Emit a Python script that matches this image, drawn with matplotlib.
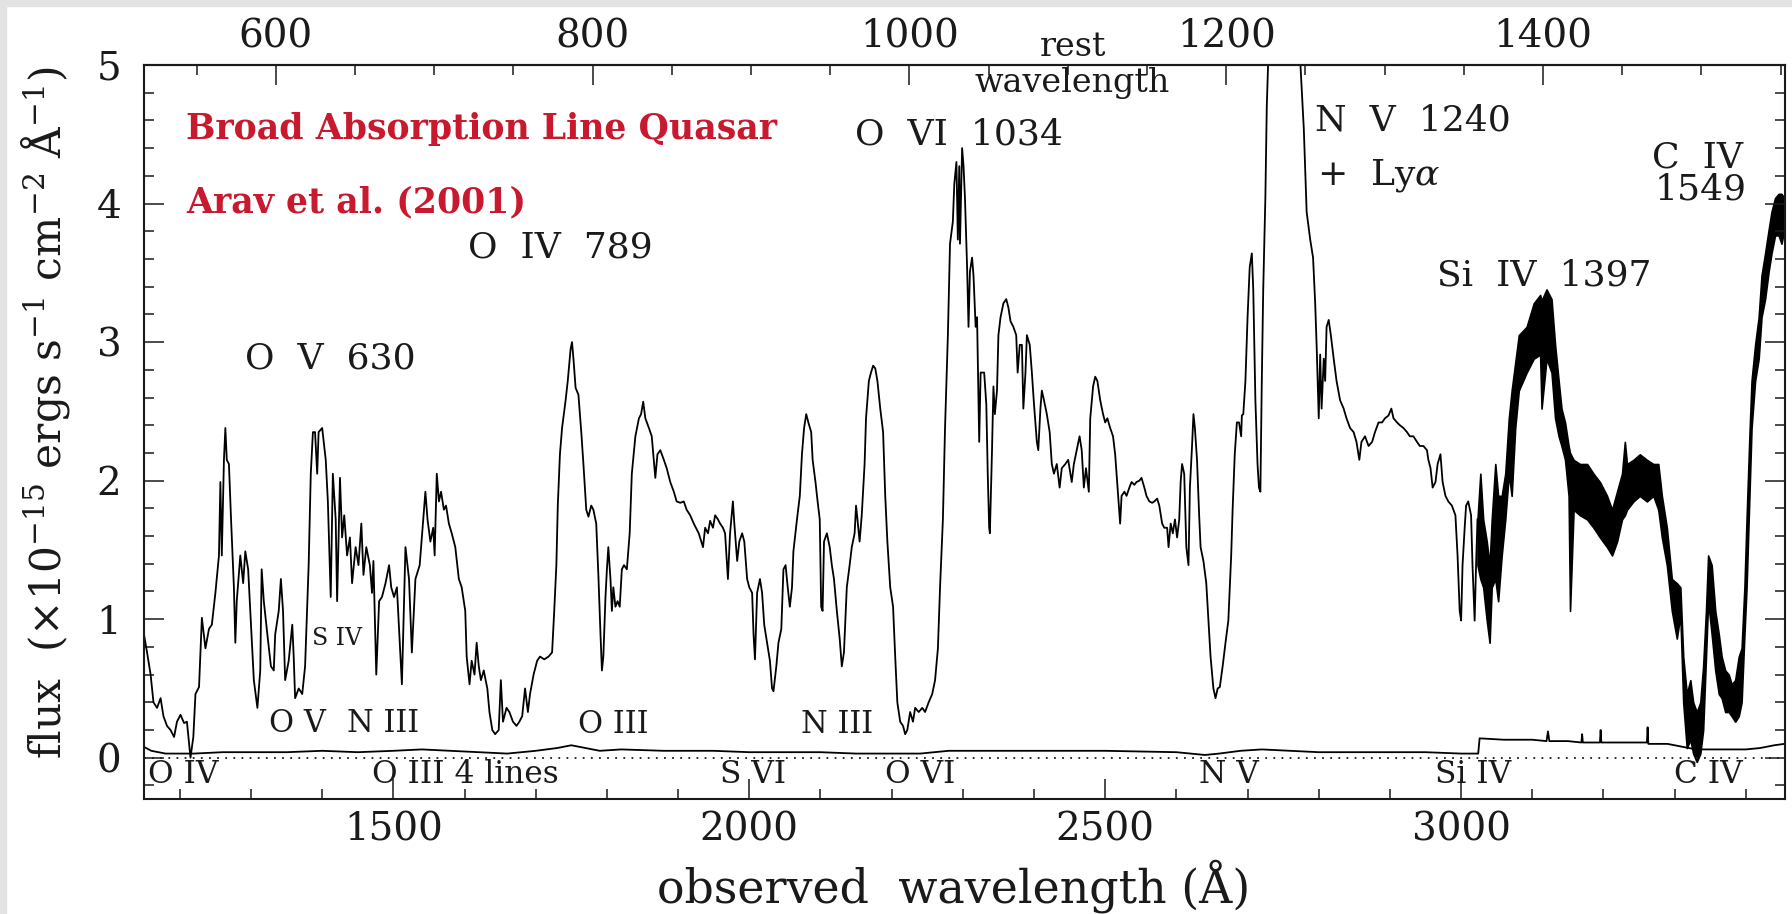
import matplotlib
matplotlib.use('Agg')
import matplotlib.pyplot as plt
from matplotlib.ticker import MultipleLocator
from matplotlib.patches import Rectangle

plt.rcParams['font.family'] = ['DejaVu Serif', 'DejaVu Sans']
plt.rcParams['mathtext.fontset'] = 'dejavuserif'

# 1+z : observed wavelength / rest wavelength
z1 = 2.225

# thin part of the spectrum, observed wavelength (A) and flux (1e-15 erg/s/cm2/A)
wave = [1149, 1154, 1159, 1163, 1168, 1173, 1177, 1182, 1187, 1192, 1196, 1201, 1206, 1210,
        1215, 1219, 1222, 1227, 1231, 1236, 1241, 1245, 1250, 1255, 1257, 1259, 1262, 1264,
        1266, 1269, 1272, 1276, 1278, 1280, 1285, 1289, 1292, 1296, 1299, 1304, 1309, 1313,
        1315, 1318, 1323, 1328, 1332, 1334, 1339, 1342, 1345, 1348, 1353, 1358, 1360, 1362,
        1367, 1372, 1376, 1381, 1384, 1387, 1390, 1393, 1395, 1400, 1405, 1408, 1412, 1415,
        1419, 1421, 1425, 1428, 1431, 1435, 1439, 1442, 1447, 1451, 1455, 1458, 1462, 1467,
        1470, 1472, 1476, 1480, 1484, 1489, 1494, 1497, 1501, 1505, 1508, 1512, 1517, 1522,
        1526, 1531, 1537,
        1542, 1545, 1548, 1552, 1556, 1558, 1561, 1564, 1567, 1571, 1574, 1578, 1582, 1587,
        1592, 1596, 1601, 1603, 1607, 1610, 1614, 1617, 1620, 1623, 1627, 1632, 1635, 1639,
        1643, 1648, 1651, 1654, 1659, 1663, 1668, 1673, 1677, 1681, 1685, 1689, 1692, 1697,
        1702, 1706, 1712, 1718, 1723, 1726, 1729, 1731, 1734, 1737, 1742, 1745, 1749, 1751,
        1753, 1756, 1760, 1764, 1767, 1771, 1774, 1778, 1781, 1785, 1788, 1791, 1793, 1795,
        1798, 1800, 1802, 1805, 1807, 1809, 1812, 1815, 1818, 1821, 1824, 1828, 1832, 1835,
        1840, 1845, 1848, 1851, 1854, 1859, 1863, 1868, 1871, 1875, 1880, 1884, 1889, 1894,
        1898, 1903, 1908, 1912, 1917, 1922, 1929,
        1935, 1938, 1942, 1945, 1949, 1952, 1956, 1959, 1963, 1966, 1970, 1973, 1977, 1979,
        1983, 1986, 1990, 1993, 1997, 2000, 2004, 2006, 2008, 2011, 2015, 2018, 2021, 2025,
        2029, 2032, 2034, 2038, 2041, 2045, 2048, 2051, 2054, 2057, 2060, 2062, 2067, 2071,
        2074, 2077, 2080, 2083, 2087, 2089, 2093, 2096, 2099, 2101, 2103, 2105, 2109, 2113,
        2116, 2119, 2123, 2127, 2130, 2133, 2137, 2141, 2144, 2148, 2150, 2152, 2155, 2158,
        2162, 2164, 2168, 2171, 2174, 2177, 2180, 2184, 2188, 2191, 2194, 2198, 2202, 2205,
        2208, 2212, 2216, 2219, 2222, 2226, 2230, 2233, 2238, 2243, 2247, 2252, 2257, 2261,
        2265, 2268, 2272, 2275, 2279, 2282, 2286, 2288, 2291, 2293, 2295, 2296, 2299, 2301,
        2303, 2306, 2308, 2310, 2313, 2315, 2318, 2320, 2323,
        2325, 2330, 2333, 2335, 2337, 2338, 2341, 2343, 2345, 2348, 2350, 2353, 2357, 2361,
        2364, 2367, 2371, 2375, 2377, 2380, 2383, 2385, 2388, 2390, 2394, 2397, 2400, 2404,
        2406, 2409, 2411, 2414, 2418, 2422, 2425, 2428, 2432, 2436, 2439, 2444, 2448, 2453,
        2456, 2460, 2464, 2467, 2470, 2473, 2477, 2479, 2483, 2486, 2489, 2493, 2497, 2500,
        2503, 2507, 2511, 2514, 2516, 2519, 2521, 2523, 2527, 2530, 2534, 2537, 2541, 2544,
        2548, 2551, 2555, 2558, 2562, 2566, 2569, 2573, 2576, 2580, 2583, 2587, 2589, 2592,
        2595, 2598, 2601, 2604, 2606, 2608, 2611, 2614, 2617, 2619, 2622, 2624, 2626, 2629,
        2632, 2634, 2638, 2642, 2645, 2648, 2652, 2655, 2658, 2661, 2665, 2669, 2673, 2677,
        2679, 2682, 2685, 2688, 2691, 2692, 2694, 2697, 2700, 2703, 2706, 2708, 2711, 2714,
        2716, 2718,
        2720, 2722, 2725, 2727, 2729, 2733, 2770, 2774, 2779, 2783, 2788, 2792, 2795, 2797,
        2800, 2802, 2804, 2807, 2809, 2811, 2814, 2817, 2821, 2825, 2830, 2835, 2839, 2844,
        2849, 2853, 2857, 2860, 2865, 2870, 2875, 2879, 2884, 2889, 2893, 2898, 2902, 2905,
        2910, 2914, 2919, 2924, 2928, 2933, 2938, 2942, 2947, 2952, 2954, 2957, 2960, 2964,
        2967, 2971, 2974, 2978, 2982, 2987, 2992, 2995, 2998, 3000, 3002, 3005, 3007, 3010,
        3014, 3016, 3019, 3021, 3023]
flux = [0.91, 0.76, 0.60, 0.40, 0.36, 0.43, 0.30, 0.23, 0.20, 0.15, 0.26, 0.31, 0.25, 0.26,
        0.00, 0.15, 0.46, 0.51, 1.01, 0.79, 0.93, 0.96, 1.19, 1.46, 1.99, 1.46, 2.15, 2.38,
        2.15, 2.12, 1.72, 1.23, 0.83, 1.13, 1.46, 1.26, 1.49, 1.36, 1.06, 0.56, 0.36, 0.63,
        1.36, 1.13, 0.89, 0.66, 0.63, 0.89, 1.06, 1.29, 1.06, 0.56, 0.70, 0.96, 0.73, 0.43,
        0.50, 0.46, 0.66, 1.39, 2.05, 2.35, 2.35, 2.05, 2.35, 2.38, 2.15, 1.85, 1.16, 2.05,
        1.72, 1.13, 2.02, 1.59, 1.75, 1.46, 1.59, 1.26, 1.52, 1.39, 1.69, 1.32, 1.52, 1.39,
        1.19, 1.42, 0.60, 1.13, 1.16, 1.26, 1.39, 1.23, 1.16, 1.23, 0.93, 0.53, 1.52, 1.29,
        0.76, 1.29, 1.39,
        1.72, 1.92, 1.72, 1.56, 1.66, 1.46, 2.05, 1.85, 1.92, 1.79, 1.82, 1.69, 1.62, 1.52,
        1.29, 1.23, 1.06, 0.73, 0.53, 0.70, 0.60, 0.83, 0.66, 0.56, 0.63, 0.50, 0.33, 0.20,
        0.17, 0.20, 0.56, 0.26, 0.36, 0.33, 0.26, 0.23, 0.26, 0.30, 0.50, 0.33, 0.46, 0.60,
        0.70, 0.73, 0.71, 0.73, 0.76, 1.06, 1.39, 1.82, 2.19, 2.38, 2.58, 2.72, 2.95, 3.00,
        2.88, 2.67, 2.62, 2.35, 2.12, 1.79, 1.74, 1.82, 1.79, 1.69, 1.32, 0.89, 0.63, 0.73,
        1.16, 1.36, 1.52, 1.29, 1.06, 1.23, 1.09, 1.13, 1.09, 1.36, 1.39, 1.36, 1.62, 2.05,
        2.32, 2.45, 2.48, 2.57, 2.45, 2.38, 2.32, 2.02, 2.19, 2.22, 2.15, 2.09, 1.99, 1.92,
        1.85, 1.84, 1.85, 1.79, 1.75, 1.69, 1.62,
        1.52, 1.66, 1.62, 1.71, 1.66, 1.75, 1.72, 1.69, 1.66, 1.62, 1.29, 1.62, 1.85, 1.69,
        1.42, 1.56, 1.62, 1.56, 1.29, 1.23, 1.19, 0.89, 0.71, 1.19, 1.29, 1.19, 0.96, 0.83,
        0.70, 0.50, 0.48, 0.66, 0.83, 0.93, 1.36, 1.39, 1.23, 1.09, 1.23, 1.49, 1.72, 1.89,
        2.19, 2.38, 2.48, 2.42, 2.35, 2.15, 1.99, 1.85, 1.72, 1.09, 1.06, 1.56, 1.62, 1.52,
        1.39, 1.29, 1.06, 0.86, 0.66, 0.76, 1.23, 1.39, 1.52, 1.62, 1.82, 1.72, 1.56, 1.75,
        2.12, 2.45, 2.72, 2.78, 2.83, 2.81, 2.72, 2.52, 2.35, 1.89, 1.56, 1.23, 1.09, 0.73,
        0.40, 0.26, 0.23, 0.17, 0.20, 0.33, 0.26, 0.36, 0.33, 0.36, 0.33, 0.40, 0.46, 0.56,
        0.79, 1.23, 1.72, 2.38, 3.05, 3.71, 3.87, 4.14, 4.30, 3.74, 4.27, 3.71, 4.40, 4.27,
        4.04, 3.54, 3.11, 3.51, 3.61, 3.48, 3.11, 3.18, 2.28,
        2.78, 2.78, 2.55, 2.05, 1.66, 1.62, 2.22, 2.68, 2.48, 2.65, 3.05, 3.18, 3.28, 3.31,
        3.25, 3.15, 3.11, 3.05, 2.78, 2.98, 2.98, 2.52, 2.78, 3.05, 2.98, 2.78, 2.55, 2.28,
        2.22, 2.52, 2.65, 2.58, 2.48, 2.35, 2.12, 2.05, 2.12, 1.95, 2.09, 2.12, 2.15, 1.99,
        2.12, 2.22, 2.32, 2.22, 1.95, 2.09, 1.92, 2.45, 2.68, 2.75, 2.72, 2.58, 2.48, 2.42,
        2.45, 2.38, 2.32, 2.19, 2.05, 1.85, 1.69, 1.89, 1.92, 1.89, 1.95, 1.99, 1.97, 1.99,
        2.00, 2.02, 1.95, 1.89, 1.85, 1.84, 1.85, 1.87, 1.82, 1.69, 1.66, 1.66, 1.52, 1.69,
        1.62, 1.72, 1.59, 1.72, 1.99, 2.12, 2.05, 1.52, 1.39, 1.95, 2.25, 2.48, 2.38, 2.15,
        1.75, 1.52, 1.42, 1.26, 0.99, 0.73, 0.50, 0.43, 0.50, 0.51, 0.66, 0.83, 0.99, 1.46,
        1.79, 2.19, 2.42, 2.42, 2.32, 2.47, 2.48, 2.72, 3.18, 3.54, 3.64, 3.38, 2.58, 2.12,
        1.95, 1.92,
        2.72, 3.38, 4.04, 4.70, 5.03, 5.40, 5.40, 5.03, 4.54, 3.94, 3.74, 3.61, 3.28, 2.98,
        2.45, 2.91, 2.52, 2.88, 2.72, 3.11, 3.16, 3.05, 2.88, 2.72, 2.58, 2.52, 2.45, 2.38,
        2.35, 2.28, 2.15, 2.28, 2.32, 2.25, 2.28, 2.35, 2.42, 2.42, 2.45, 2.47, 2.52, 2.45,
        2.42, 2.40, 2.38, 2.35, 2.32, 2.32, 2.28, 2.25, 2.25, 2.22, 2.15, 2.09, 1.95, 1.99,
        2.12, 2.19, 1.99, 1.89, 1.85, 1.82, 1.75, 1.46, 1.06, 0.99, 1.39, 1.66, 1.82, 1.85,
        1.75, 1.39, 0.99, 1.39, 1.72]

# noisy red end: lower and upper edge of the noise band
band_wave = [3023, 3027, 3031, 3036, 3040, 3043, 3048, 3052, 3057, 3062, 3067, 3071, 3076,
             3081, 3092, 3102, 3111, 3113, 3120, 3127, 3132, 3137, 3141, 3146, 3151, 3153,
             3158, 3167, 3177, 3186, 3195, 3205, 3212, 3219, 3226, 3230, 3233, 3242, 3251,
             3261, 3270, 3277, 3282, 3289, 3296, 3303, 3308, 3312, 3317, 3322, 3326, 3331,
             3336, 3340, 3344, 3347, 3352, 3357, 3362, 3366, 3371, 3376, 3380, 3385, 3390,
             3394, 3398, 3401, 3405, 3408, 3413, 3418, 3422, 3427, 3432, 3436, 3441, 3446,
             3450, 3454]
band_lo = [1.39, 1.29, 1.23, 0.99, 0.83, 1.23, 1.29, 1.13, 1.46, 1.72, 2.05, 1.89, 2.38,
           2.65, 2.78, 2.88, 2.91, 2.52, 2.88, 2.78, 2.45, 2.32, 2.25, 2.15, 1.89, 1.06,
           1.79, 1.75, 1.72, 1.66, 1.59, 1.52, 1.46, 1.56, 1.72, 1.75, 1.79, 1.85, 1.89,
           1.85, 1.89, 1.79, 1.59, 1.39, 1.06, 0.86, 1.03, 0.40, 0.07, 0.13, 0.03, -0.03,
           0.03, 0.20, 0.73, 1.13, 0.89, 0.63, 0.46, 0.43, 0.33, 0.33, 0.30, 0.26, 0.30,
           0.40, 0.89, 1.23, 1.89, 2.38, 2.72, 2.88, 3.18, 3.31, 3.51, 3.64, 3.77, 3.77,
           3.71, 3.81]
band_hi = [1.72, 2.05, 1.72, 1.56, 1.39, 1.72, 2.12, 1.89, 1.89, 2.05, 2.45, 2.65, 2.85,
           3.05, 3.11, 3.28, 3.34, 3.30, 3.38, 3.31, 2.98, 2.72, 2.52, 2.42, 2.25, 2.20,
           2.15, 2.12, 2.12, 2.05, 1.99, 1.89, 1.79, 1.92, 2.05, 2.28, 2.12, 2.15, 2.19,
           2.15, 2.12, 2.12, 1.89, 1.66, 1.29, 1.26, 1.23, 0.73, 0.46, 0.56, 0.40, 0.33,
           0.40, 0.66, 1.06, 1.46, 1.39, 1.06, 0.89, 0.73, 0.63, 0.60, 0.53, 0.56, 0.73,
           0.79, 1.23, 1.72, 2.32, 2.72, 2.98, 3.18, 3.48, 3.64, 3.81, 3.94, 4.04, 4.07,
           4.07, 4.04]

# error spectrum
err_wave = [1149, 1160, 1180, 1220, 1260, 1300, 1350, 1400, 1450, 1500, 1540, 1580, 1620,
            1660, 1700, 1730, 1750, 1770, 1790, 1820, 1880, 1950, 2000, 2050, 2100, 2150,
            2200, 2240, 2280, 2320, 2400, 2500, 2600, 2640, 2660, 2690, 2720, 2760, 2800,
            2900, 2950, 3000, 3024, 3026, 3060, 3100, 3120, 3122, 3124, 3150, 3169, 3170,
            3171, 3195, 3196, 3197, 3230, 3261, 3262, 3263, 3290, 3310, 3330, 3360, 3400,
            3420, 3440, 3454]
err_flux = [0.08, 0.05, 0.03, 0.03, 0.04, 0.04, 0.04, 0.05, 0.04, 0.05, 0.06, 0.05, 0.04,
            0.03, 0.05, 0.07, 0.09, 0.07, 0.05, 0.06, 0.05, 0.05, 0.04, 0.04, 0.04, 0.03,
            0.03, 0.03, 0.05, 0.05, 0.05, 0.05, 0.04, 0.02, 0.03, 0.05, 0.06, 0.05, 0.04,
            0.04, 0.04, 0.03, 0.03, 0.14, 0.13, 0.13, 0.12, 0.19, 0.12, 0.12, 0.11, 0.17,
            0.11, 0.11, 0.20, 0.11, 0.11, 0.11, 0.22, 0.10, 0.10, 0.08, 0.06, 0.06, 0.06,
            0.07, 0.09, 0.10]

# line identifications: text, observed wavelength of left edge, flux of text centre
big_text = ['O  V  630', 'O  IV  789', 'O  VI  1034', 'N  V  1240', '+  Ly$\\alpha$',
            'C  IV', '1549', 'Si  IV  1397']
big_x = [1292, 1605, 2149, 2795, 2798, 3268, 3272, 2966]
big_y = [2.88, 3.68, 4.50, 4.60, 4.20, 4.33, 4.10, 3.48]

mid_text = ['O V', 'N III', 'O III', 'N III']
mid_x = [1326, 1435, 1760, 2072]
mid_y = [0.25, 0.25, 0.24, 0.24]

low_text = ['O IV', 'O III 4 lines', 'S VI', 'O VI', 'N V', 'Si IV', 'C IV']
low_x = [1156, 1470, 1959, 2190, 2632, 2963, 3299]
low_y = -0.12

ink = '#1a1a1a'
red = '#c8192e'

fig = plt.figure(figsize=(17.92, 9.14), dpi=100)
fig.patch.set_facecolor('white')
fig.add_artist(Rectangle((0, 1 - 6 / 914), 1, 6 / 914, transform=fig.transFigure,
                         color='#e3e3e3', zorder=0))
fig.add_artist(Rectangle((0, 0), 6 / 1792, 1, transform=fig.transFigure,
                         color='#e3e3e3', zorder=0))

ax = fig.add_axes([143.5 / 1792, 1 - 799.3 / 914, (1785 - 143.5) / 1792, 734.3 / 914])

ax.plot(wave, flux, color='black', lw=1.3)
ax.fill_between(band_wave, band_lo, band_hi, color='black', lw=1.2)
ax.plot(err_wave, err_flux, color='black', lw=1.3)
ax.axhline(0, color=ink, lw=1.3, ls=(0, (1, 3.5)))

ax.set_xlim(1149, 3455)
ax.set_ylim(-0.3, 5.0)

ax.xaxis.set_major_locator(MultipleLocator(500))
ax.xaxis.set_minor_locator(MultipleLocator(100))
ax.yaxis.set_major_locator(MultipleLocator(1))
ax.yaxis.set_minor_locator(MultipleLocator(0.2))
ax.tick_params(which='both', direction='in', top=False, right=True, width=1.1, color=ink,
               labelcolor=ink)
ax.tick_params(which='major', length=14.5, labelsize=28)
ax.tick_params(which='minor', length=7.5)
ax.tick_params(axis='x', which='major', pad=9)
ax.tick_params(axis='y', which='major', pad=16)
for sp in ax.spines.values():
    sp.set_linewidth(1.5)
    sp.set_color(ink)

secax = ax.secondary_xaxis('top', functions=(lambda x: x / z1, lambda x: x * z1))
secax.set_xticks([600, 800, 1000, 1200, 1400])
secax.xaxis.set_minor_locator(MultipleLocator(50))
secax.tick_params(which='both', direction='in', width=1.1, color=ink, labelcolor=ink)
secax.tick_params(which='major', length=14.5, labelsize=28, pad=7)
secax.tick_params(which='minor', length=7.5)
secax.spines['top'].set_linewidth(1.5)
secax.spines['top'].set_color(ink)

for t, x, y in zip(big_text, big_x, big_y):
    ax.text(x, y, t, fontsize=26, color=ink, ha='left', va='center')
for t, x, y in zip(mid_text, mid_x, mid_y):
    ax.text(x, y, t, fontsize=22, color=ink, ha='left', va='center')
for t, x in zip(low_text, low_x):
    ax.text(x, low_y, t, fontsize=22.5, color=ink, ha='left', va='center')
ax.text(1386, 0.86, 'S IV', fontsize=17, color=ink, ha='left', va='center')
ax.text(2455, 5.13, 'rest', fontsize=24, color=ink, ha='center', va='center')
ax.text(2454, 4.87, 'wavelength', fontsize=24, color=ink, ha='center', va='center')

ax.text(1209, 4.54, 'Broad Absorption Line Quasar', fontsize=25, color=red,
        fontweight='bold', ha='left', va='center')
ax.text(1209, 4.01, 'Arav et al. (2001)', fontsize=25, color=red, fontweight='bold',
        ha='left', va='center')

fig.text(46 / 1792, 1 - 413 / 914,
         'flux  ($\\times$10$^{-15}$ ergs s$^{-1}$ cm$^{-2}$ Å$^{-1}$)',
         rotation=90, fontsize=30.5, color=ink, ha='center', va='center')
fig.text(954 / 1792, 1 - 886 / 914, 'observed  wavelength (Å)', fontsize=33, color=ink,
         ha='center', va='center')

fig.savefig('out.png', dpi=100, facecolor='white')
